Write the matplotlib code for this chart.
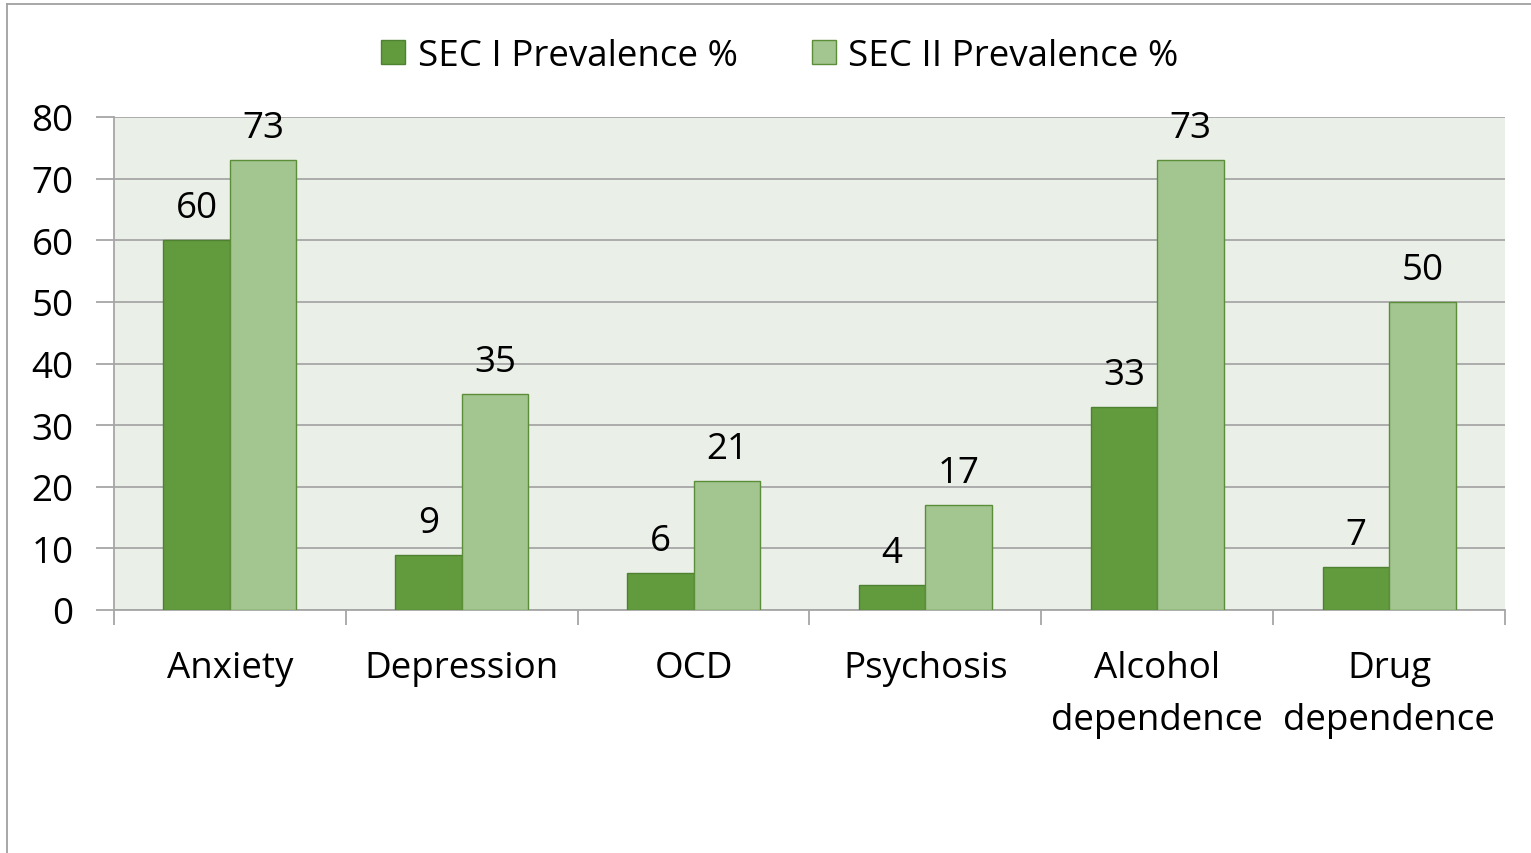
import matplotlib
matplotlib.use('Agg')
import matplotlib.pyplot as plt
import numpy as np
from matplotlib.lines import Line2D

categories = ['Anxiety', 'Depression', 'OCD', 'Psychosis', 'Alcohol\ndependence', 'Drug\ndependence']
sec1 = [60, 9, 6, 4, 33, 7]
sec2 = [73, 35, 21, 17, 73, 50]
series_names = ['SEC I Prevalence %', 'SEC II Prevalence %']

dark = '#629A3E'
light = '#A3C590'
grid_col = '#A6A6A6'
fs = 26.5

plt.rcParams['font.family'] = ['Open Sans', 'DejaVu Sans']

W, H = 1531, 854
fig = plt.figure(figsize=(W / 100, H / 100), dpi=100)
ax = fig.add_axes([114 / W, 1 - 611 / H, (1505 - 114) / W, (611 - 118) / H])
ax.set_facecolor('#EAEFE8')

x = np.arange(len(categories))
bw = 0.287
b1 = ax.bar(x - bw / 2, sec1, bw, color=dark, edgecolor='#4E8231', linewidth=1, label=series_names[0], zorder=3)
b2 = ax.bar(x + bw / 2, sec2, bw, color=light, edgecolor='#5C8E3A', linewidth=1, label=series_names[1], zorder=3)
ax.bar_label(b1, padding=10, fontsize=fs)
ax.bar_label(b2, padding=10, fontsize=fs)

ax.set_xlim(-0.5, len(categories) - 0.5)
ax.set_ylim(0, 80)
ax.set_yticks(range(0, 81, 10))
ax.set_xticks(x)
ax.set_xticklabels(categories, fontsize=fs, linespacing=1.58)
ax.set_xticks(np.arange(-0.5, len(categories)), minor=True)
ax.tick_params(axis='x', which='major', length=0, pad=29)
ax.tick_params(axis='x', which='minor', length=11, color=grid_col, width=1.3)
ax.tick_params(axis='y', length=13, color=grid_col, width=1.3, labelsize=fs, pad=16)

ax.yaxis.grid(True, color=grid_col, linewidth=1.3, zorder=0)
ax.set_axisbelow(True)
for s in ['top', 'right']:
    ax.spines[s].set_visible(False)
for s in ['left', 'bottom']:
    ax.spines[s].set_color(grid_col)
    ax.spines[s].set_linewidth(1.3)

leg = fig.legend(loc='center', bbox_to_anchor=(780 / W, 1 - 57 / H), ncol=2, frameon=False,
                 fontsize=fs, handlelength=0.65, handleheight=0.65, handletextpad=0.35, columnspacing=2.0)

# chart area frame (left and top edges)
fig.add_artist(Line2D([7 / W, 7 / W], [0, 1 - 4.5 / H], transform=fig.transFigure, color='#A0A0A0', lw=1.3))
fig.add_artist(Line2D([7 / W, 1], [1 - 4.5 / H, 1 - 4.5 / H], transform=fig.transFigure, color='#A0A0A0', lw=1.3))

fig.savefig('out.png', dpi=100)
